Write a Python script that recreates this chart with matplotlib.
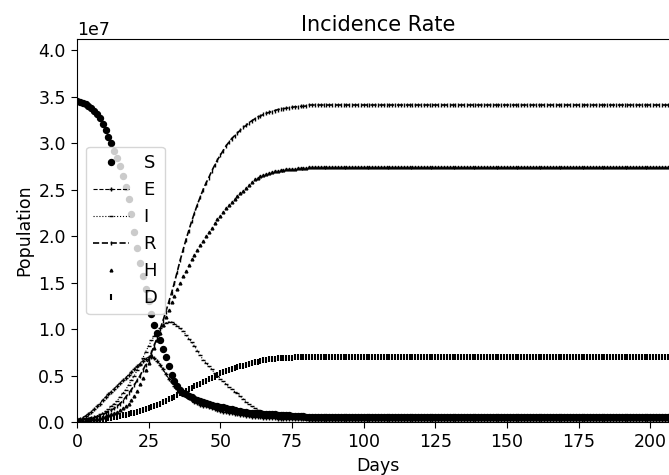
import numpy as np
import matplotlib
matplotlib.use('Agg')
import matplotlib.pyplot as plt

# values, in units of 1e7, days 0..80, then flat tail
S = [3.45, 3.44, 3.43, 3.42, 3.40, 3.38, 3.35, 3.31, 3.27, 3.21,
     3.14, 3.07, 3.00, 2.92, 2.84, 2.75, 2.65, 2.53, 2.40, 2.24,
     2.05, 1.87, 1.71, 1.57, 1.43, 1.30, 1.16, 1.05, 0.96, 0.88,
     0.79, 0.70, 0.60, 0.51, 0.44, 0.39, 0.35, 0.32, 0.30, 0.28,
     0.27, 0.25, 0.24, 0.23, 0.22, 0.21, 0.20, 0.19, 0.18, 0.17,
     0.165, 0.16, 0.15, 0.145, 0.14, 0.13, 0.125, 0.12, 0.115, 0.11,
     0.105, 0.10, 0.10, 0.095, 0.095, 0.09, 0.09, 0.09, 0.085, 0.085,
     0.08, 0.08, 0.078, 0.076, 0.074, 0.072, 0.07, 0.068, 0.066, 0.064,
     0.062]
E = [0.03, 0.04, 0.05, 0.07, 0.09, 0.11, 0.14, 0.17, 0.20, 0.24,
     0.27, 0.30, 0.33, 0.36, 0.39, 0.42, 0.45, 0.48, 0.51, 0.54,
     0.57, 0.60, 0.63, 0.66, 0.68, 0.70, 0.70, 0.69, 0.66, 0.62,
     0.57, 0.52, 0.47, 0.43, 0.39, 0.36, 0.33, 0.30, 0.28, 0.26,
     0.24, 0.22, 0.21, 0.19, 0.18, 0.17, 0.16, 0.15, 0.14, 0.13,
     0.12, 0.115, 0.11, 0.10, 0.095, 0.09, 0.085, 0.08, 0.075, 0.07,
     0.065, 0.06, 0.058, 0.055, 0.052, 0.05, 0.048, 0.046, 0.044, 0.042,
     0.04, 0.039, 0.038, 0.037, 0.036, 0.035, 0.034, 0.033, 0.032, 0.031,
     0.03]
I = [0.02, 0.025, 0.03, 0.035, 0.04, 0.05, 0.06, 0.07, 0.085, 0.10,
     0.12, 0.14, 0.17, 0.20, 0.23, 0.27, 0.31, 0.35, 0.40, 0.45,
     0.50, 0.56, 0.62, 0.69, 0.76, 0.82, 0.88, 0.93, 0.97, 1.01,
     1.04, 1.07, 1.08, 1.08, 1.06, 1.04, 1.01, 0.98, 0.94, 0.90,
     0.86, 0.82, 0.77, 0.72, 0.67, 0.64, 0.60, 0.57, 0.53, 0.50,
     0.47, 0.44, 0.41, 0.38, 0.36, 0.33, 0.31, 0.28, 0.25, 0.22,
     0.20, 0.17, 0.15, 0.13, 0.12, 0.10, 0.09, 0.08, 0.07, 0.065,
     0.06, 0.055, 0.05, 0.047, 0.044, 0.042, 0.04, 0.038, 0.036, 0.034,
     0.032]
R = [0.02, 0.025, 0.03, 0.035, 0.04, 0.05, 0.055, 0.06, 0.07, 0.08,
     0.10, 0.11, 0.13, 0.15, 0.17, 0.20, 0.23, 0.27, 0.31, 0.35,
     0.40, 0.45, 0.50, 0.56, 0.62, 0.67, 0.75, 0.83, 0.91, 1.00,
     1.09, 1.19, 1.29, 1.39, 1.50, 1.62, 1.74, 1.85, 1.96, 2.06,
     2.16, 2.25, 2.34, 2.42, 2.50, 2.57, 2.63, 2.70, 2.76, 2.82,
     2.87, 2.92, 2.97, 3.01, 3.05, 3.08, 3.11, 3.14, 3.17, 3.19,
     3.22, 3.24, 3.26, 3.28, 3.29, 3.31, 3.32, 3.33, 3.34, 3.35,
     3.36, 3.365, 3.37, 3.375, 3.38, 3.385, 3.39, 3.39, 3.395, 3.395,
     3.40]
H = [0.01, 0.01, 0.015, 0.02, 0.025, 0.03, 0.035, 0.04, 0.05, 0.06,
     0.07, 0.08, 0.09, 0.10, 0.115, 0.13, 0.15, 0.17, 0.20, 0.24,
     0.28, 0.34, 0.41, 0.48, 0.56, 0.64, 0.72, 0.80, 0.88, 0.96,
     1.05, 1.13, 1.21, 1.29, 1.36, 1.43, 1.50, 1.57, 1.63, 1.69,
     1.75, 1.80, 1.85, 1.90, 1.95, 2.00, 2.05, 2.09, 2.14, 2.18,
     2.22, 2.26, 2.30, 2.33, 2.37, 2.40, 2.43, 2.46, 2.49, 2.52,
     2.55, 2.58, 2.61, 2.63, 2.65, 2.66, 2.67, 2.68, 2.69, 2.70,
     2.705, 2.71, 2.715, 2.72, 2.72, 2.725, 2.725, 2.73, 2.73, 2.735,
     2.735]
D = [0.005, 0.005, 0.01, 0.01, 0.015, 0.02, 0.02, 0.025, 0.03, 0.035,
     0.04, 0.045, 0.05, 0.055, 0.06, 0.07, 0.075, 0.08, 0.09, 0.095,
     0.10, 0.11, 0.12, 0.13, 0.14, 0.15, 0.16, 0.17, 0.185, 0.20,
     0.215, 0.23, 0.245, 0.26, 0.275, 0.29, 0.31, 0.325, 0.34, 0.355,
     0.37, 0.385, 0.40, 0.415, 0.43, 0.445, 0.46, 0.475, 0.49, 0.51,
     0.53, 0.54, 0.55, 0.56, 0.57, 0.58, 0.59, 0.60, 0.61, 0.62,
     0.63, 0.64, 0.645, 0.65, 0.66, 0.665, 0.67, 0.675, 0.68, 0.685,
     0.69, 0.69, 0.692, 0.694, 0.695, 0.696, 0.697, 0.698, 0.699, 0.70,
     0.70]

# flat tail, days 81..210
n_tail = 130
S = S + [0.055] * n_tail
E = E + [0.02] * n_tail
I = I + [0.02] * n_tail
R = R + [3.41] * n_tail
H = H + [2.74] * n_tail
D = D + [0.70] * n_tail

t = np.arange(len(S))
scale = 1e7

plt.rcParams['font.size'] = 12.5
plt.rcParams['xtick.major.size'] = 4.5
plt.rcParams['ytick.major.size'] = 4.5

fig = plt.figure(figsize=(6.69, 4.75), dpi=100)
ax = fig.add_axes([0.115, 0.111, 0.90, 0.807])

ax.plot(t, np.array(S)*scale, 'ko', markersize=4.3, label='S')
ax.plot(t, np.array(E)*scale, 'k+--', markersize=3, lw=0.8, label='E')
ax.plot(t, np.array(I)*scale, 'k_:', markersize=3, lw=0.8, label='I')
ax.plot(t, np.array(R)*scale, '|--', color='k', markersize=3, lw=1.2, label='R')
ax.plot(t, np.array(H)*scale, 'k^', markersize=2, label='H')
ax.plot(t, np.array(D)*scale, 'k|', markersize=4, mew=1.5, label='D')

ax.set_xlim(0, 210)
ax.set_ylim(0, 4.12e7)
ax.set_xticks(np.arange(0, 201, 25))
ax.set_yticks(np.arange(0, 4.01e7, 0.5e7))
ax.set_title('Incidence Rate', fontsize=15)
ax.set_xlabel('Days')
ax.set_ylabel('Population')
ax.legend(loc='center left', bbox_to_anchor=(0.0, 0.5), fontsize=13)

fig.savefig('out.png', dpi=100)
